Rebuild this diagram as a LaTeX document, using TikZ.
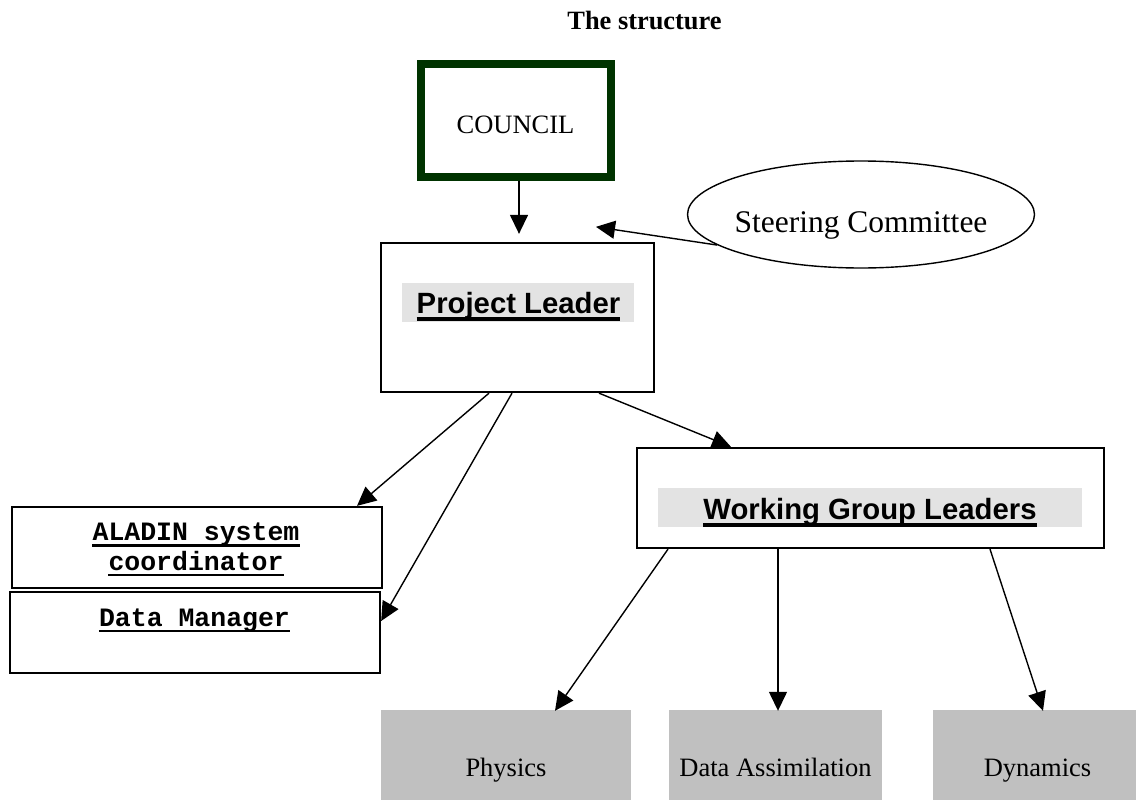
\documentclass[tikz,border=0pt]{standalone}
\usepackage{fontspec}
\setmainfont{Liberation Serif}
\newfontfamily\arialfont{Liberation Sans}
\newfontfamily\courfont{Liberation Mono}
\usetikzlibrary{arrows.meta,shapes.geometric}
\definecolor{councilgreen}{RGB}{0,51,0}
\definecolor{hlgray}{RGB}{227,227,227}
\definecolor{boxgray}{RGB}{192,192,192}
\begin{document}
\begin{tikzpicture}[x=1pt,y=-1pt,
  txt/.style={inner sep=0pt, anchor=base},
  plainbox/.style={draw=black, line width=2.3pt, fill=white, inner sep=0pt, rectangle},
  hlbox/.style={fill=hlgray, inner sep=0pt, rectangle},
  graybox/.style={fill=boxgray, inner sep=0pt, rectangle},
  arr/.style={line width=1.4pt, -{Triangle[length=19pt,width=18pt]}},
  ularial/.style={line width=3.3pt},
  ulcour/.style={line width=2.6pt},
  timesfont/.style={font=\fontsize{26.5pt}{30pt}\selectfont},
  arialstyle/.style={font=\arialfont\bfseries\fontsize{29.3pt}{33pt}\selectfont},
  courstyle/.style={font=\courfont\bfseries\fontsize{26.5pt}{30pt}\selectfont},
]
\useasboundingbox (0,0) rectangle (1136,800);

% title
\node[txt, font=\bfseries\fontsize{26.4pt}{30pt}\selectfont] (title) at (644.5,30) {The structure};

% council
\node[draw=councilgreen, line width=7.5pt, fill=white, inner sep=0pt,
      minimum width=190pt, minimum height=113pt] (council) at (516,120.5) {};
\node[txt, timesfont] (counciltext) at (515.5,133) {COUNCIL};

% steering committee
\node[draw, ellipse, line width=1.4pt, inner sep=0pt,
      minimum width=347pt, minimum height=107pt] (steer) at (861,214.5) {};
\node[txt, font=\fontsize{31.5pt}{36pt}\selectfont] (steertext) at (861,232) {Steering Committee};

% project leader
\node[plainbox, minimum width=273pt, minimum height=149pt] (pl) at (517.5,317.5) {};
\node[hlbox, minimum width=232pt, minimum height=39pt] (plhl) at (518,302.5) {};
\node[txt, arialstyle] (pltext) at (518.5,313) {Project Leader};
\draw[ularial] ([yshift=-6pt]pltext.base west) -- ([yshift=-6pt]pltext.base east);

% working group leaders
\node[plainbox, minimum width=467pt, minimum height=100pt] (wgl) at (870.5,498) {};
\node[hlbox, minimum width=424pt, minimum height=39pt] (wglhl) at (870,507.5) {};
\node[txt, arialstyle] (wgltext) at (870,519) {Working Group Leaders};
\draw[ularial] ([yshift=-6pt]wgltext.base west) -- ([yshift=-6pt]wgltext.base east);

% aladin system coordinator
\node[plainbox, minimum width=370pt, minimum height=81pt] (aladin) at (197,547.5) {};
\node[txt, courstyle] (aladintexta) at (196,540.5) {ALADIN system};
\node[txt, courstyle] (aladintextb) at (196,570) {coordinator};
\draw[ulcour] ([yshift=-5pt]aladintexta.base west) -- ([yshift=-5pt]aladintexta.base east);
\draw[ulcour] ([yshift=-5pt]aladintextb.base west) -- ([yshift=-5pt]aladintextb.base east);

% data manager
\node[plainbox, minimum width=370pt, minimum height=81pt] (dm) at (195,632.5) {};
\node[txt, courstyle] (dmtext) at (194.5,626) {Data Manager};
\draw[ulcour] ([yshift=-5pt]dmtext.base west) -- ([yshift=-5pt]dmtext.base east);

% bottom gray boxes
\node[graybox, minimum width=250pt, minimum height=90pt] (phys) at (506,755) {};
\node[txt, timesfont] (phystext) at (506,776) {Physics};
\node[graybox, minimum width=213pt, minimum height=90pt] (da) at (775.5,755) {};
\node[txt, timesfont] (datext) at (775.5,776) {Data Assimilation};
\node[graybox, minimum width=203pt, minimum height=90pt] (dyn) at (1034.5,755) {};
\node[txt, timesfont] (dyntext) at (1037.5,776) {Dynamics};

% connectors
\draw[arr] ([xshift=3pt]council.south) -- ([xshift=1.5pt,yshift=8pt]pl.north);
\draw[arr] (steer.192) -- ([xshift=78.5pt,yshift=15pt]pl.north);
\draw[arr] ([xshift=-28.5pt]pl.south) -- ([xshift=160pt]aladin.north);
\draw[arr] ([xshift=-5.5pt]pl.south) -- ([yshift=11.5pt]dm.east);
\draw[arr] ([xshift=81.5pt]pl.south) -- ([xshift=-139.5pt]wgl.north);
\draw[arr] ([xshift=-202.5pt]wgl.south) -- ([xshift=49pt,yshift=-1pt]phys.north);
\draw[arr] ([xshift=-92.5pt]wgl.south) -- ([xshift=2.5pt,yshift=-1pt]da.north);
\draw[arr] ([xshift=119.5pt]wgl.south) -- ([xshift=8.5pt,yshift=-1pt]dyn.north);
\end{tikzpicture}
\end{document}
